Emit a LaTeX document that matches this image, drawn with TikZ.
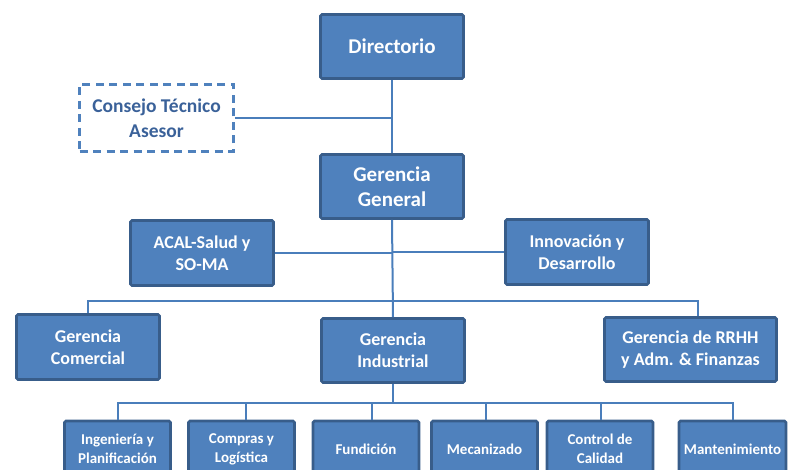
\documentclass[tikz,border=0pt]{standalone}
\usepackage{fontspec}
\setmainfont{Carlito}
\definecolor{boxfill}{HTML}{4F81BD}
\definecolor{boxborder}{HTML}{385D8A}
\definecolor{linecol}{HTML}{4A7EBB}
\definecolor{dashtext}{HTML}{3A6199}
\tikzset{
  orgbox/.style={draw=boxborder, fill=boxfill, line width=2.6pt, rounded corners=1.5pt,
    text=white, align=center, inner sep=0pt},
  bigtxt/.style={font=\fontsize{21}{25}\selectfont\bfseries},
  midtxt/.style={font=\fontsize{18}{22}\selectfont\bfseries},
  smalltxt/.style={font=\fontsize{15}{19}\selectfont\bfseries},
  dashbox/.style={draw=boxfill, line width=2.6pt, dash pattern=on 8pt off 5.5pt,
    text=dashtext, align=center, inner sep=0pt, font=\fontsize{19.5}{25}\selectfont\bfseries},
  conn/.style={draw=linecol, line width=2pt}
}
\begin{document}
\begin{tikzpicture}[x=1pt,y=-1pt]
\useasboundingbox (0,0) rectangle (790,470);
\clip (0,0) rectangle (790,470);
% top
\node[orgbox, bigtxt, minimum width=143, minimum height=64] (dir) at (392,46.5) {Directorio};
\node[orgbox, bigtxt, minimum width=143, minimum height=64] (gg) at (392,186.5) {Gerencia\\General};
\node[dashbox, minimum width=154, minimum height=67] (cons) at (156.5,118) {Consejo Técnico\\Asesor};
\node[orgbox, midtxt, minimum width=143, minimum height=65] (acal) at (202,253) {ACAL-Salud y\\SO-MA};
\node[orgbox, midtxt, minimum width=143, minimum height=65] (inno) at (577,252) {Innovación y\\Desarrollo};
% second level
\node[orgbox, midtxt, minimum width=143, minimum height=65] (com) at (88,347) {Gerencia\\Comercial};
\node[orgbox, midtxt, minimum width=143, minimum height=64] (ind) at (393,350.5) {Gerencia\\Industrial};
\node[orgbox, midtxt, minimum width=172, minimum height=64] (rrhh) at (690.5,349.5) {Gerencia de RRHH\\y Adm. \& Finanzas};
% bottom
\node[orgbox, smalltxt, minimum width=106, minimum height=56] (ing) at (117.5,449) {Ingeniería y\\Planificación};
\node[orgbox, smalltxt, minimum width=106, minimum height=56] (comp) at (241.5,449) {Compras y\\Logística};
\node[orgbox, smalltxt, minimum width=106, minimum height=56] (fund) at (366,449) {Fundición};
\node[orgbox, smalltxt, minimum width=106, minimum height=56] (mec) at (484.5,449) {Mecanizado};
\node[orgbox, smalltxt, minimum width=106, minimum height=56] (ctrl) at (600,449) {Control de\\Calidad};
\node[orgbox, smalltxt, minimum width=107, minimum height=56] (mant) at (732.5,449) {Mantenimiento};
% buses
\coordinate (bus1) at (392.5,301);
\coordinate (bus2) at (393,403);
% connectors
\draw[conn] (dir.south) -- (gg.north);
\draw[conn] (cons.east) -- (cons.east -| dir.south);
\draw[conn] (gg.south) -- (ind.north);
\draw[conn] (acal.east) -- (acal.east -| gg.south);
\draw[conn] (inno.west) -- (inno.west -| gg.south);
\draw[conn] (com.north) |- (bus1);
\draw[conn] ([xshift=7.5pt]rrhh.north) |- (bus1);
\draw[conn] (ind.south) -- (bus2);
\draw[conn] (ing.north) |- (bus2);
\draw[conn] ([xshift=4pt]comp.north) |- (bus2);
\draw[conn] ([xshift=6pt]fund.north) |- (bus2);
\draw[conn] ([xshift=1.5pt]mec.north) |- (bus2);
\draw[conn] ([xshift=1pt]ctrl.north) |- (bus2);
\draw[conn] (mant.north) |- (bus2);
\end{tikzpicture}
\end{document}
